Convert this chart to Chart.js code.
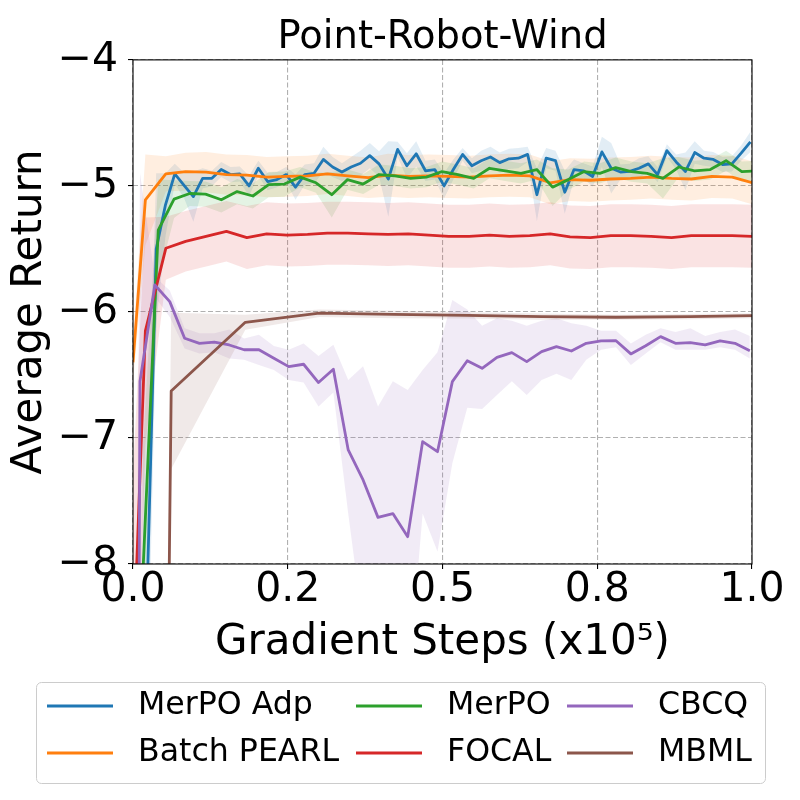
<!DOCTYPE html>
<html>
<head>
<meta charset="utf-8">
<script src="https://cdn.jsdelivr.net/npm/chart.js@4"></script>
<style>
  html, body { margin: 0; padding: 0; background: #fff; }
  #wrap { width: 800px; height: 800px; }
</style>
</head>
<body>
<div id="wrap"><canvas id="chart" width="800" height="800"></canvas></div>
<script>
// Point-Robot-Wind: average return against gradient steps (x1e5)

const xTickLabels = ['0.0', '0.2', '0.5', '0.8', '1.0'];
const seriesNames = ['MerPO Adp', 'Batch PEARL', 'MerPO', 'FOCAL', 'CBCQ', 'MBML'];

// evaluation points of each run (x1e5 steps)
const adpSteps = grid(0.0075, 0.015, 67);
const pearlSteps = [0, 0.02, 0.053, 0.085, 0.118, 0.151, 0.184, 0.216, 0.249, 0.282, 0.314,
  0.347, 0.38, 0.412, 0.445, 0.478, 0.51, 0.543, 0.576, 0.608, 0.641, 0.674, 0.706, 0.739,
  0.772, 0.804, 0.837, 0.87, 0.902, 0.935, 0.968, 1.0];
const merpoSteps = grid(0.0153, 0.02548, 40);
const cbcqSteps = [0].concat(grid(0.0113, 0.02403, 42));
const mbmlSteps = grid(-0.058, 0.1197, 10);

// MerPO Adp
const adpMean = [-12, -8.3, -5.5, -5.15, -4.905, -4.995, -5.085, -4.94, -4.94, -4.87, -4.91,
  -4.905, -5.0, -4.86, -4.965, -4.95, -4.91, -5.01, -4.91, -4.90, -4.79, -4.85, -4.89, -4.85,
  -4.82, -4.76, -4.825, -4.945, -4.71, -4.84, -4.745, -4.88, -4.87, -5.0, -4.87, -4.75, -4.84,
  -4.80, -4.77, -4.815, -4.785, -4.78, -4.75, -5.07, -4.78, -4.80, -5.05, -4.87, -4.88, -4.925,
  -4.73, -4.86, -4.89, -4.885, -4.86, -4.825, -4.91, -4.72, -4.81, -4.885, -4.735, -4.78, -4.79,
  -4.83, -4.825, -4.74, -4.65];
const adpSpread = [2, 1.0, 0.6, 0.25, 0.08, 0.1, 0.2, 0.08, 0.06, 0.06, 0.06, 0.06, 0.08, 0.06,
  0.07, 0.06, 0.06, 0.1, 0.08, 0.08, 0.1, 0.08, 0.07, 0.08, 0.1, 0.1, 0.1, 0.3, 0.06, 0.1, 0.1,
  0.08, 0.08, 0.1, 0.08, 0.05, 0.06, 0.08, 0.08, 0.08, 0.08, 0.08, 0.06, 0.21, 0.08, 0.08, 0.17,
  0.08, 0.06, 0.08, 0.12, 0.2, 0.06, 0.06, 0.08, 0.06, 0.06, 0.05, 0.06, 0.15, 0.09, 0.06, 0.06,
  0.06, 0.06, 0.06, 0.08];

// Batch PEARL
const pearlMean = [-6.4, -5.11, -4.905, -4.886, -4.89, -4.91, -4.915, -4.93, -4.925, -4.92,
  -4.905, -4.92, -4.935, -4.915, -4.925, -4.92, -4.925, -4.93, -4.92, -4.915, -4.92, -4.975,
  -4.95, -4.955, -4.945, -4.94, -4.93, -4.94, -4.945, -4.925, -4.93, -4.975];
const pearlSpread = [0.15, 0.36, 0.14, 0.15, 0.16, 0.16, 0.16, 0.16, 0.16, 0.16, 0.16, 0.16,
  0.16, 0.17, 0.17, 0.17, 0.17, 0.17, 0.17, 0.17, 0.17, 0.17, 0.17, 0.17, 0.17, 0.17, 0.17,
  0.17, 0.17, 0.17, 0.17, 0.17];

// MerPO
const merpoMean = [-8.15, -5.35, -5.105, -5.06, -5.065, -5.11, -5.045, -5.08, -4.99, -4.985,
  -4.93, -4.975, -5.07, -4.95, -4.985, -4.91, -4.92, -4.94, -4.93, -4.886, -4.91, -4.94, -4.86,
  -4.88, -4.90, -4.87, -5.01, -4.95, -4.886, -4.90, -4.855, -4.886, -4.90, -4.94, -4.85, -4.88,
  -4.87, -4.80, -4.886, -4.88];
const merpoSpread = [1.0, 0.4, 0.15, 0.1, 0.1, 0.1, 0.1, 0.1, 0.1, 0.1, 0.08, 0.08, 0.18, 0.08,
  0.08, 0.08, 0.08, 0.08, 0.08, 0.08, 0.08, 0.08, 0.08, 0.08, 0.08, 0.08, 0.15, 0.08, 0.08, 0.08,
  0.08, 0.08, 0.08, 0.16, 0.08, 0.08, 0.08, 0.08, 0.08, 0.08];

// FOCAL (same evaluation points as Batch PEARL)
const focalMean = [-8.8, -6.15, -5.495, -5.44, -5.40, -5.36, -5.41, -5.38, -5.39, -5.385, -5.375,
  -5.375, -5.38, -5.385, -5.38, -5.39, -5.40, -5.40, -5.39, -5.40, -5.395, -5.38, -5.405, -5.41,
  -5.395, -5.395, -5.40, -5.41, -5.395, -5.395, -5.395, -5.40];
const focalSpread = [1.5, 0.9, 0.25, 0.24, 0.24, 0.24, 0.25, 0.25, 0.25, 0.25, 0.25, 0.25, 0.25,
  0.25, 0.25, 0.25, 0.25, 0.25, 0.25, 0.25, 0.25, 0.25, 0.25, 0.25, 0.25, 0.25, 0.25, 0.25, 0.25,
  0.25, 0.25, 0.25];

// CBCQ
const cbcqMean = [-20, -6.55, -5.786, -5.918, -6.209, -6.249, -6.24, -6.262, -6.30, -6.30, -6.367,
  -6.434, -6.415, -6.56, -6.455, -7.095, -7.333, -7.63, -7.60, -7.783, -7.029, -7.109, -6.553,
  -6.387, -6.447, -6.36, -6.323, -6.394, -6.315, -6.275, -6.31, -6.249, -6.23, -6.228, -6.333,
  -6.268, -6.196, -6.249, -6.243, -6.262, -6.23, -6.249, -6.307];
const cbcqHigh = [-12, -4.9, -5.72, -5.83, -6.13, -6.17, -6.17, -6.14, -6.21, -6.18, -6.27, -6.30,
  -6.25, -6.35, -6.26, -6.54, -6.43, -6.75, -6.55, -6.62, -6.46, -6.32, -5.905, -5.98, -6.11,
  -6.05, -6.07, -6.11, -6.07, -6.05, -6.09, -6.11, -6.15, -6.15, -6.25, -6.18, -6.13, -6.16,
  -6.13, -6.19, -6.16, -6.14, -6.19];
const cbcqLow = [-20, -8.5, -5.88, -6.04, -6.29, -6.33, -6.32, -6.37, -6.38, -6.42, -6.46, -6.54,
  -6.56, -6.75, -6.64, -7.6, -8.5, -9, -9, -9, -7.6, -7.9, -7.2, -6.76, -6.77, -6.66, -6.55,
  -6.66, -6.54, -6.49, -6.54, -6.38, -6.30, -6.28, -6.42, -6.33, -6.24, -6.30, -6.30, -6.30,
  -6.28, -6.30, -6.37];

// MBML
const mbmlMean = [-60, -6.627, -6.082, -6.01, -6.02, -6.028, -6.037, -6.042, -6.037, -6.028];
const mbmlSpread = [5, 0.62, 0.06, 0.03, 0.03, 0.025, 0.025, 0.02, 0.02, 0.02];

const colors = ['#1f77b4', '#ff7f0e', '#2ca02c', '#d62728', '#9467bd', '#8c564b'];

function grid(start, step, n) {
    const out = [];
    for (let i = 0; i < n; i++) out.push(+(start + i * step).toFixed(4));
    return out;
}

function points(xs, ys) {
    return xs.map((x, i) => ({ x: x, y: ys[i] }));
}

function fade(hex, a) {
    const n = parseInt(hex.slice(1), 16);
    return `rgba(${(n >> 16) & 255}, ${(n >> 8) & 255}, ${n & 255}, ${a})`;
}

function lineSet(idx, xs, ys) {
    return {
        label: seriesNames[idx],
        data: points(xs, ys),
        borderColor: colors[idx],
        borderWidth: 2.8,
        borderJoinStyle: 'round',
        pointRadius: 0,
        fill: false,
        tension: 0,
        clip: 0,
        order: 6 - idx
    };
}

function bandSets(idx, xs, lo, hi) {
    const common = {
        borderColor: 'rgba(0,0,0,0)',
        borderWidth: 0,
        pointRadius: 0,
        tension: 0,
        clip: 0,
        order: 20 - idx
    };
    return [
        { ...common, label: '_hi' + idx, data: points(xs, hi), fill: '+1', backgroundColor: fade(colors[idx], 0.13) },
        { ...common, label: '_lo' + idx, data: points(xs, lo), fill: false }
    ];
}

const add = (m, s) => m.map((v, i) => v + s[i]);
const sub = (m, s) => m.map((v, i) => v - s[i]);

const datasets = [
    ...bandSets(0, adpSteps, sub(adpMean, adpSpread), add(adpMean, adpSpread)),
    ...bandSets(1, pearlSteps, sub(pearlMean, pearlSpread), add(pearlMean, pearlSpread)),
    ...bandSets(2, merpoSteps, sub(merpoMean, merpoSpread), add(merpoMean, merpoSpread)),
    ...bandSets(3, pearlSteps, sub(focalMean, focalSpread), add(focalMean, focalSpread)),
    ...bandSets(4, cbcqSteps, cbcqLow, cbcqHigh),
    ...bandSets(5, mbmlSteps, sub(mbmlMean, mbmlSpread), add(mbmlMean, mbmlSpread)),
    lineSet(0, adpSteps, adpMean),
    lineSet(1, pearlSteps, pearlMean),
    lineSet(2, merpoSteps, merpoMean),
    lineSet(3, pearlSteps, focalMean),
    lineSet(4, cbcqSteps, cbcqMean),
    lineSet(5, mbmlSteps, mbmlMean)
];

// full box around the plot, drawn above the data like matplotlib spines
const spinePlugin = {
    id: 'spines',
    afterDatasetsDraw(chart) {
        const { ctx, chartArea: a } = chart;
        ctx.save();
        ctx.strokeStyle = '#000';
        ctx.lineWidth = 1.1;
        ctx.strokeRect(a.left, a.top, a.right - a.left, a.bottom - a.top);
        ctx.restore();
    }
};

// 3 x 2 legend, filled column by column
const legendPlugin = {
    id: 'gridLegend',
    afterDraw(chart) {
        const ctx = chart.ctx;
        const colX = [47, 356, 567];
        const rowY = [706, 753];
        ctx.save();
        ctx.beginPath();
        ctx.roundRect(36.5, 682.5, 729, 101, 5);
        ctx.fillStyle = 'rgba(255,255,255,0.8)';
        ctx.fill();
        ctx.strokeStyle = '#cccccc';
        ctx.lineWidth = 1;
        ctx.stroke();
        ctx.font = '31.6px "DejaVu Sans"';
        ctx.textBaseline = 'middle';
        ctx.textAlign = 'left';
        seriesNames.forEach((name, i) => {
            const x = colX[Math.floor(i / 2)];
            const y = rowY[i % 2];
            ctx.strokeStyle = colors[i];
            ctx.lineWidth = 2.8;
            ctx.beginPath();
            ctx.moveTo(x, y);
            ctx.lineTo(x + 66, y);
            ctx.stroke();
            ctx.fillStyle = '#000';
            ctx.fillText(name, x + 91, y);
        });
        ctx.restore();
    }
};

Chart.defaults.font.family = '"DejaVu Sans"';
Chart.defaults.color = '#000';

new Chart(document.getElementById('chart'), {
    type: 'line',
    data: { datasets: datasets },
    options: {
        responsive: false,
        animation: false,
        devicePixelRatio: 1,
        layout: { padding: { left: 0, right: 48, top: 0, bottom: 130 } },
        plugins: {
            legend: { display: false },
            tooltip: { enabled: false },
            title: {
                display: true,
                fullSize: false,
                text: 'Point-Robot-Wind',
                color: '#000',
                font: { size: 38.5, weight: 'normal', lineHeight: 1.14 },
                padding: { top: 16, bottom: 0 }
            }
        },
        scales: {
            x: {
                type: 'linear',
                min: 0,
                max: 1,
                afterFit: s => { s.height = 106; },
                ticks: {
                    stepSize: 0.25,
                    autoSkip: false,
                    maxRotation: 0,
                    padding: 1,
                    color: '#000',
                    font: { size: 41, lineHeight: 1 },
                    callback: (v, i) => xTickLabels[i]
                },
                grid: {
                    color: '#b0b0b0',
                    lineWidth: 1.1,
                    borderDash: [5, 2.5],
                    tickColor: '#000',
                    tickLength: 5,
                    tickWidth: 1.1
                },
                border: { display: false, dash: [5, 2.5] },
                title: {
                    display: true,
                    text: 'Gradient Steps (x10\u2075)',
                    color: '#000',
                    font: { size: 42 },
                    padding: { top: 0, bottom: 2 }
                }
            },
            y: {
                min: -8,
                max: -4,
                afterFit: s => { s.width = 133; },
                ticks: {
                    stepSize: 1,
                    padding: 10,
                    color: '#000',
                    font: { size: 41 },
                    callback: v => (v < 0 ? '\u2212' : '') + Math.abs(v)
                },
                grid: {
                    color: '#b0b0b0',
                    lineWidth: 1.1,
                    borderDash: [5, 2.5],
                    tickColor: '#000',
                    tickLength: 5,
                    tickWidth: 1.1
                },
                border: { display: false, dash: [5, 2.5] },
                title: {
                    display: true,
                    text: 'Average Return',
                    color: '#000',
                    font: { size: 42 },
                    padding: { top: 5, bottom: 0 }
                }
            }
        }
    },
    plugins: [spinePlugin, legendPlugin]
});
</script>
</body>
</html>
